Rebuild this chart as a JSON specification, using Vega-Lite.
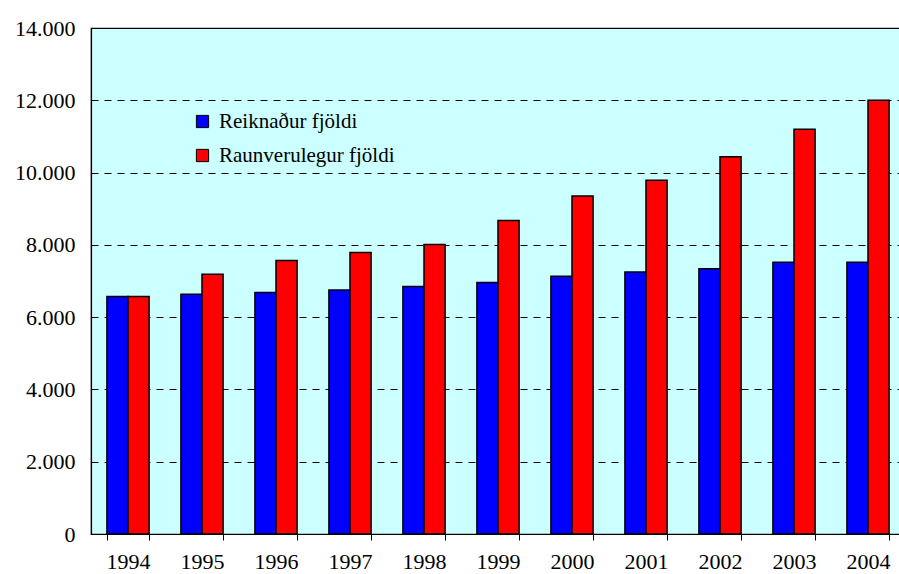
{
  "$schema": "https://vega.github.io/schema/vega-lite/v6.json",
  "width": 814,
  "height": 506,
  "autosize": {"type": "none"},
  "padding": {"left": 91, "top": 28, "right": 0, "bottom": 40},
  "background": "#FFFFFF",
  "config": {
    "view": {"fill": "#CCFFFF", "stroke": "#000000", "strokeWidth": 1.2},
    "font": "'Times New Roman', 'Liberation Serif', serif",
    "axis": {"labelFont": "'Times New Roman', 'Liberation Serif', serif"},
    "legend": {"labelFont": "'Times New Roman', 'Liberation Serif', serif"}
  },
  "data": {
    "values": [
      {"year": "1994", "series": "Reiknaður fjöldi", "value": 6570},
      {"year": "1994", "series": "Raunverulegur fjöldi", "value": 6570},
      {"year": "1995", "series": "Reiknaður fjöldi", "value": 6630},
      {"year": "1995", "series": "Raunverulegur fjöldi", "value": 7190},
      {"year": "1996", "series": "Reiknaður fjöldi", "value": 6680},
      {"year": "1996", "series": "Raunverulegur fjöldi", "value": 7570},
      {"year": "1997", "series": "Reiknaður fjöldi", "value": 6750},
      {"year": "1997", "series": "Raunverulegur fjöldi", "value": 7790},
      {"year": "1998", "series": "Reiknaður fjöldi", "value": 6850},
      {"year": "1998", "series": "Raunverulegur fjöldi", "value": 8010},
      {"year": "1999", "series": "Reiknaður fjöldi", "value": 6960},
      {"year": "1999", "series": "Raunverulegur fjöldi", "value": 8675},
      {"year": "2000", "series": "Reiknaður fjöldi", "value": 7130},
      {"year": "2000", "series": "Raunverulegur fjöldi", "value": 9350},
      {"year": "2001", "series": "Reiknaður fjöldi", "value": 7250},
      {"year": "2001", "series": "Raunverulegur fjöldi", "value": 9785},
      {"year": "2002", "series": "Reiknaður fjöldi", "value": 7340},
      {"year": "2002", "series": "Raunverulegur fjöldi", "value": 10440},
      {"year": "2003", "series": "Reiknaður fjöldi", "value": 7520},
      {"year": "2003", "series": "Raunverulegur fjöldi", "value": 11200},
      {"year": "2004", "series": "Reiknaður fjöldi", "value": 7520},
      {"year": "2004", "series": "Raunverulegur fjöldi", "value": 12000}
    ]
  },
  "mark": {"type": "bar", "stroke": "#000000", "strokeWidth": 1.5},
  "encoding": {
    "x": {
      "field": "year",
      "type": "nominal",
      "title": null,
      "scale": {"paddingInner": 0.43, "paddingOuter": 0.215},
      "axis": {
        "tickBand": "extent",
        "labelAngle": 0,
        "labelFontSize": 22,
        "labelColor": "#000000",
        "labelPadding": 11,
        "tickSize": 6,
        "tickColor": "#000000",
        "domainColor": "#000000",
        "domainWidth": 1.2,
        "grid": false
      }
    },
    "xOffset": {
      "field": "series",
      "type": "nominal",
      "sort": ["Reiknaður fjöldi", "Raunverulegur fjöldi"],
      "scale": {"paddingInner": 0, "paddingOuter": 0}
    },
    "y": {
      "field": "value",
      "type": "quantitative",
      "title": null,
      "scale": {"domain": [0, 14000], "nice": false},
      "axis": {
        "values": [0, 2000, 4000, 6000, 8000, 10000, 12000, 14000],
        "labelExpr": "replace(format(datum.value, ','), ',', '.')",
        "labelFontSize": 22,
        "labelColor": "#000000",
        "labelPadding": 16,
        "ticks": false,
        "domainColor": "#000000",
        "domainWidth": 1.2,
        "grid": true,
        "gridColor": "#000000",
        "gridDash": [7, 6],
        "gridWidth": 1,
        "gridOpacity": 1
      }
    },
    "color": {
      "field": "series",
      "type": "nominal",
      "sort": ["Reiknaður fjöldi", "Raunverulegur fjöldi"],
      "scale": {"domain": ["Reiknaður fjöldi", "Raunverulegur fjöldi"], "range": ["#0000FF", "#FF0000"]},
      "legend": {
        "title": null,
        "orient": "none",
        "legendX": 101,
        "legendY": 83,
        "padding": 0,
        "symbolType": "square",
        "symbolSize": 150,
        "symbolStrokeColor": "#000000",
        "symbolStrokeWidth": 1,
        "symbolOpacity": 1,
        "labelFontSize": 21,
        "labelColor": "#000000",
        "labelOffset": 6,
        "rowPadding": 12,
        "labelLimit": 400
      }
    }
  }
}
